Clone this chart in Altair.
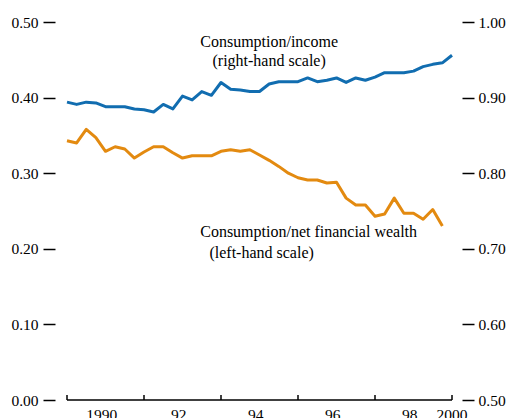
import altair as alt
import pandas as pd

FONT = "Liberation Serif"
BLUE = "#116db0"
ORANGE = "#e38a10"

# Quarterly observations, 1990Q1 onward
quarters = [f"{y}Q{q}" for y in range(1990, 2001) for q in range(1, 5)]

# Consumption / income (right-hand scale), 1990Q1-2000Q1
cons_income = [
    0.894, 0.891, 0.894, 0.893, 0.888, 0.888, 0.888, 0.885, 0.884, 0.881,
    0.891, 0.885, 0.902, 0.897, 0.908, 0.903, 0.920, 0.911, 0.910, 0.908,
    0.908, 0.918, 0.921, 0.921, 0.921, 0.926, 0.921, 0.923, 0.926, 0.920,
    0.926, 0.923, 0.927, 0.933, 0.933, 0.933, 0.935, 0.941, 0.944, 0.946,
    0.956,
]

# Consumption / net financial wealth (left-hand scale), 1990Q1-1999Q4
cons_wealth = [
    0.343, 0.340, 0.358, 0.347, 0.329, 0.335, 0.332, 0.320, 0.328, 0.335,
    0.335, 0.327, 0.320, 0.323, 0.323, 0.323, 0.329, 0.331, 0.329, 0.331,
    0.324, 0.317, 0.309, 0.300, 0.294, 0.291, 0.291, 0.287, 0.288, 0.267,
    0.258, 0.258, 0.243, 0.246, 0.267, 0.247, 0.247, 0.239, 0.252, 0.230,
]

# Axis ticks and labels
tick_years = [1990, 1992, 1994, 1996, 1998, 2000]
label_pos = [1990.9, 1992.9, 1994.9, 1996.9, 1998.9, 2000.0]
label_text = ["1990", "92", "94", "96", "98", "2000"]
left_ticks = [0.0, 0.1, 0.2, 0.3, 0.4, 0.5]
right_ticks = [0.5, 0.6, 0.7, 0.8, 0.9, 1.0]

# Annotation text placed in data units
income_note_t = [1995.25, 1995.25]
income_note_v = [0.973, 0.948]
income_note_text = ["Consumption/income", "(right-hand scale)"]
wealth_note_t = [1993.46, 1993.70]
wealth_note_v = [0.2217, 0.1944]
wealth_note_text = ["Consumption/net financial wealth", "(left-hand scale)"]


def to_time(q):
    year, qtr = q.split("Q")
    return int(year) + (int(qtr) - 1) / 4


times = [to_time(q) for q in quarters]
df_income = pd.DataFrame({"t": times[:len(cons_income)], "v": cons_income})
df_wealth = pd.DataFrame({"t": times[:len(cons_wealth)], "v": cons_wealth})
df_ticks = pd.DataFrame({"t": tick_years})
df_labels = pd.DataFrame({"t": label_pos, "label": label_text})
df_income_note = pd.DataFrame({"t": income_note_t, "v": income_note_v, "label": income_note_text})
df_wealth_note = pd.DataFrame({"t": wealth_note_t, "v": wealth_note_v, "label": wealth_note_text})

W, H = 385, 378

x_scale = alt.Scale(domain=[1990, 2000], nice=False, zero=False)
left_scale = alt.Scale(domain=[0, 0.5], nice=False, zero=False)
right_scale = alt.Scale(domain=[0.5, 1.0], nice=False, zero=False)


def y_axis(orient, values, offset, pad):
    return alt.Axis(
        orient=orient, values=values, format=".2f", domain=False, grid=False,
        tickSize=12, tickWidth=1.5, tickColor="black", offset=offset,
        labelPadding=pad, labelFont=FONT, labelFontSize=15.5, labelColor="black",
        labelFlush=False, title=None,
    )


wealth_line = alt.Chart(df_wealth).mark_line(
    color=ORANGE, strokeWidth=3, strokeJoin="round"
).encode(
    x=alt.X("t:Q", scale=x_scale, axis=None),
    y=alt.Y("v:Q", scale=left_scale, axis=y_axis("left", left_ticks, 12, 5)),
)

income_line = alt.Chart(df_income).mark_line(
    color=BLUE, strokeWidth=3, strokeJoin="round"
).encode(
    x=alt.X("t:Q", scale=x_scale, axis=None),
    y=alt.Y("v:Q", scale=right_scale, axis=y_axis("right", right_ticks, 10, 4)),
)

wealth_note = alt.Chart(df_wealth_note).mark_text(
    align="left", baseline="middle", font=FONT, fontSize=16, color="black"
).encode(
    x=alt.X("t:Q", scale=x_scale, axis=None),
    y=alt.Y("v:Q", scale=left_scale, axis=None),
    text="label:N",
)

income_note = alt.Chart(df_income_note).mark_text(
    align="center", baseline="middle", font=FONT, fontSize=16, color="black"
).encode(
    x=alt.X("t:Q", scale=x_scale, axis=None),
    y=alt.Y("v:Q", scale=right_scale, axis=None),
    text="label:N",
)

# Horizontal time axis line along the bottom of the plot
base_line = alt.Chart(df_ticks).mark_rule(color="black", strokeWidth=1.5).encode(
    x=alt.X("min(t):Q", scale=x_scale, axis=None),
    x2="max(t):Q",
    y=alt.value(H),
)

# Short inward tick marks on the time axis
time_ticks = alt.Chart(df_ticks).mark_rule(color="black", strokeWidth=1.5).encode(
    x=alt.X("t:Q", scale=x_scale, axis=None),
    y=alt.value(H - 5),
    y2=alt.value(H),
)

# Year labels set between the ticks
time_labels = alt.Chart(df_labels).mark_text(
    align="center", baseline="top", font=FONT, fontSize=15.5, color="black"
).encode(
    x=alt.X("t:Q", scale=x_scale, axis=None),
    y=alt.value(H + 8),
    text="label:N",
)

chart = alt.layer(
    wealth_line, income_line, wealth_note, income_note,
    base_line, time_ticks, time_labels,
).resolve_scale(
    y="independent"
).properties(
    width=W, height=H,
    autosize=alt.AutoSizeParams(type="none"),
    padding={"left": 67, "top": 22, "right": 58, "bottom": 18},
    background="white",
).configure_view(stroke=None)

chart.save("out.html", embed_options={"renderer": "svg", "actions": False})
